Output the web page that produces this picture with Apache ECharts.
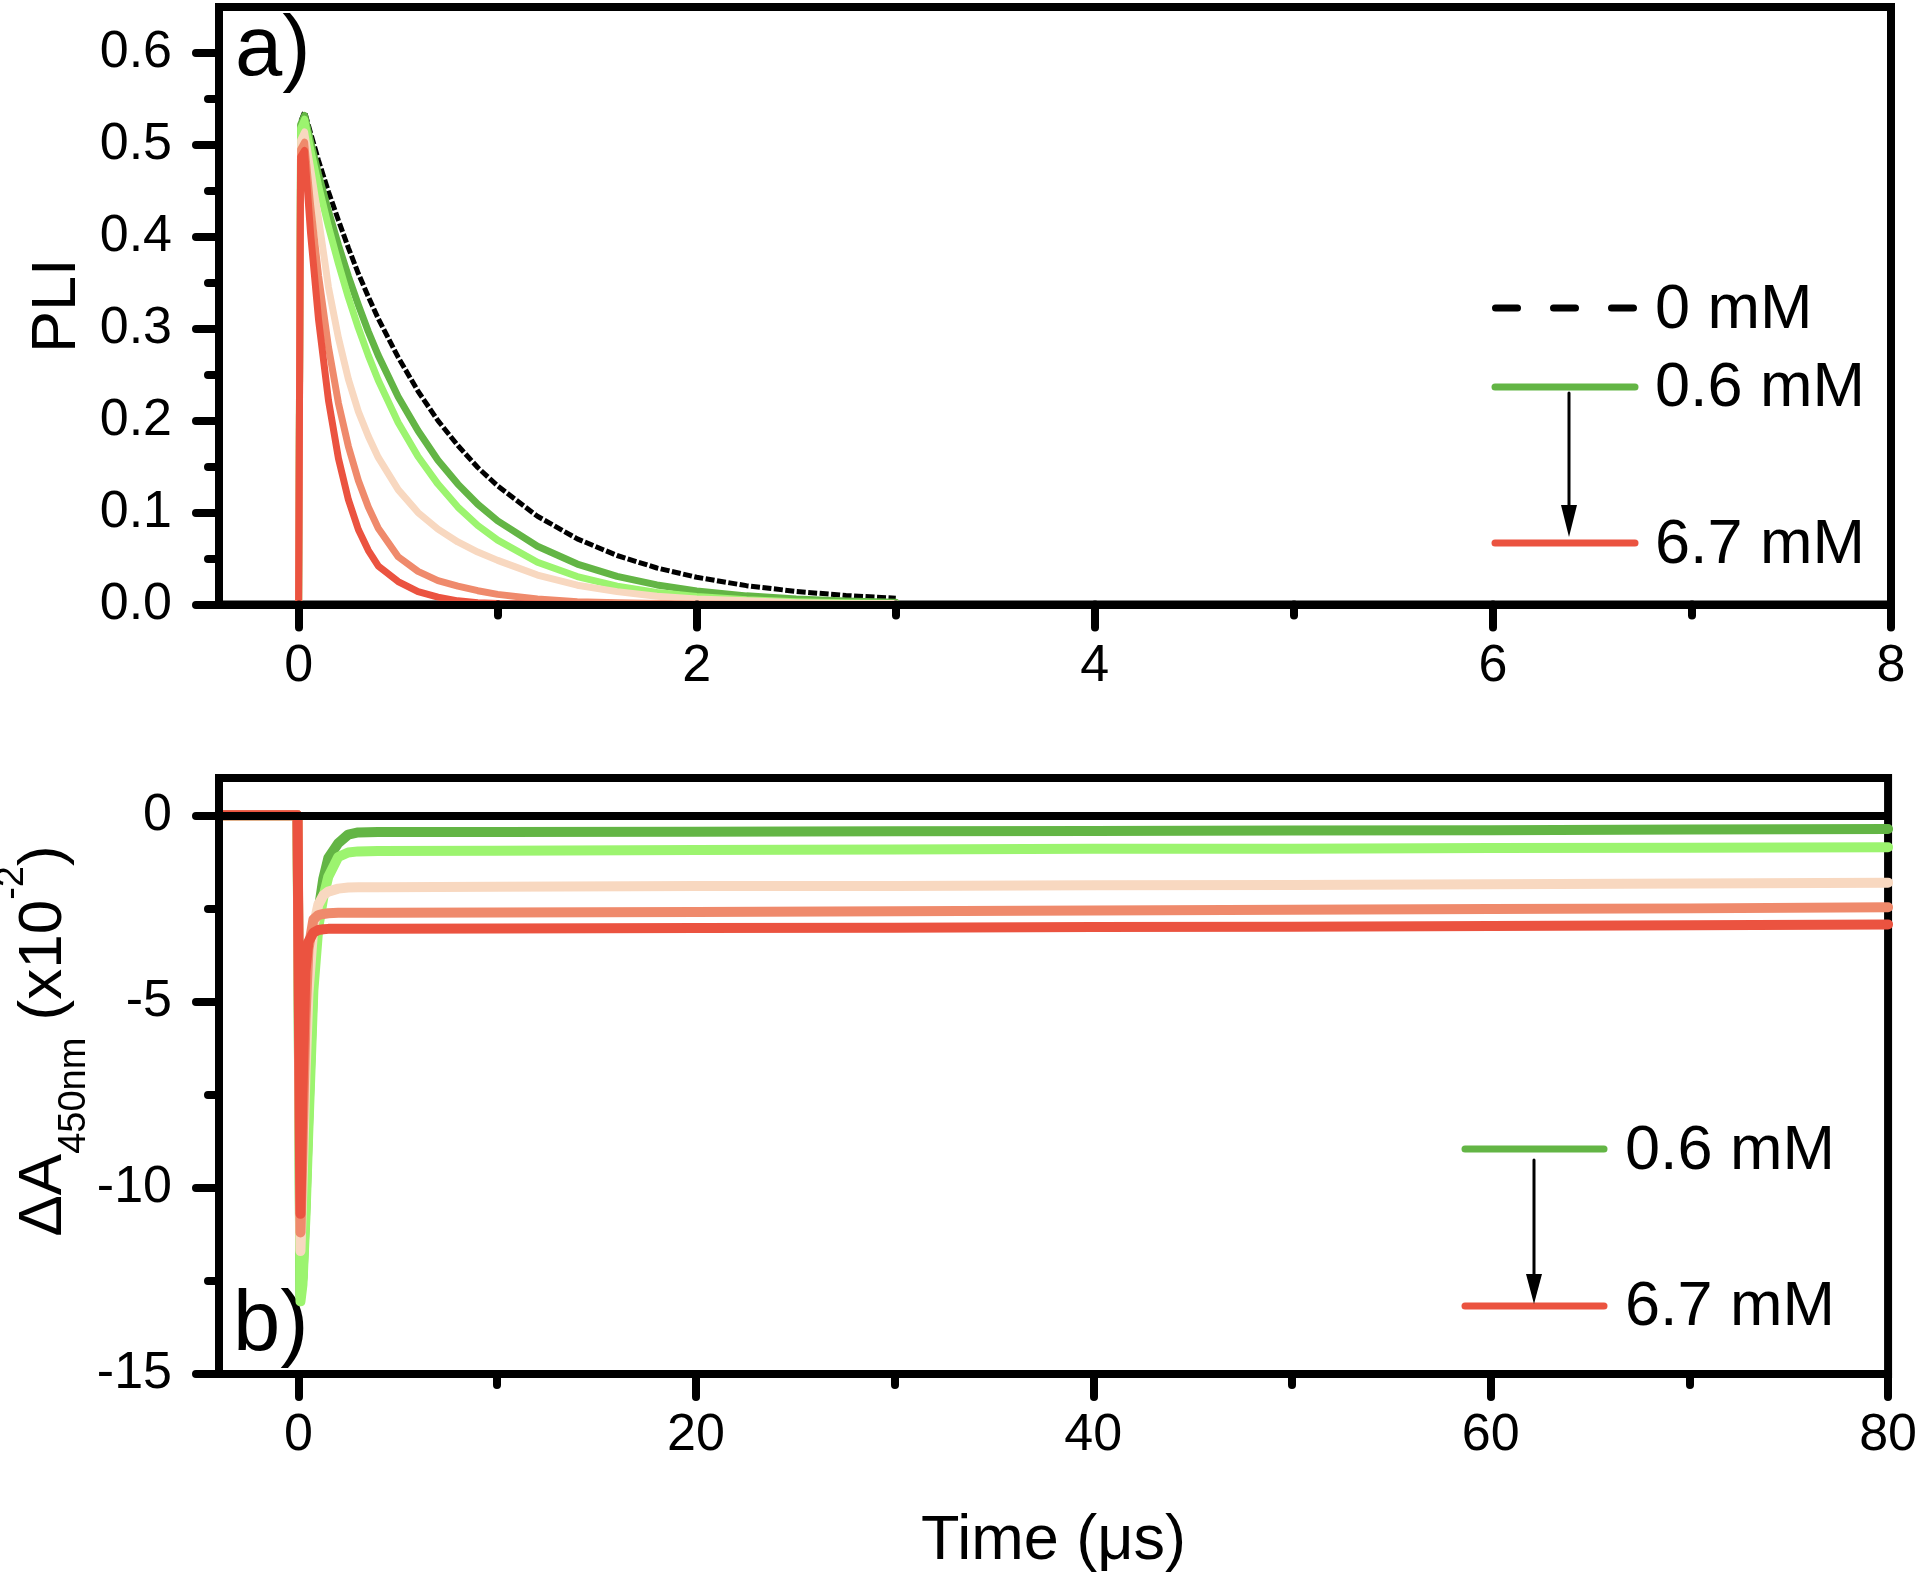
<!DOCTYPE html>
<html><head><meta charset="utf-8">
<script src="https://cdn.jsdelivr.net/npm/echarts@6/dist/echarts.min.js"></script>
<style>html,body{margin:0;padding:0;background:#fff}#c{width:1920px;height:1578px}</style>
</head><body><div id="c"></div>
<script>
// ---------- Panel a) : photoluminescence intensity (PLI) vs time (µs) ----------
const tTop = [-0.4, 0, 0.01, 0.03, 0.06, 0.1, 0.15, 0.2, 0.25, 0.3, 0.35, 0.4, 0.5, 0.6, 0.7, 0.8, 0.9, 1.0, 1.2, 1.4, 1.6, 1.8, 2.0, 2.25, 2.5, 2.75, 3.0];
const pl_0mM   = [0, 0, 0.525, 0.536, 0.513, 0.483, 0.449, 0.418, 0.388, 0.360, 0.335, 0.311, 0.269, 0.232, 0.200, 0.173, 0.149, 0.129, 0.096, 0.0714, 0.0533, 0.0397, 0.0296, 0.0205, 0.0142, 0.0098, 0.0068];
const pl_06mM  = [0, 0, 0.522, 0.532, 0.504, 0.468, 0.428, 0.391, 0.357, 0.326, 0.297, 0.271, 0.226, 0.189, 0.157, 0.131, 0.109, 0.091, 0.0634, 0.044, 0.0306, 0.0213, 0.0148, 0.0094, 0.006, 0.0038, 0.0024];
const pl_c2    = [0, 0, 0.518, 0.528, 0.496, 0.456, 0.411, 0.371, 0.334, 0.301, 0.271, 0.244, 0.198, 0.161, 0.131, 0.106, 0.086, 0.070, 0.046, 0.0304, 0.020, 0.0132, 0.0087, 0.0052, 0.0031, 0.0018, 0.0011];
const pl_c3    = [0, 0, 0.505, 0.514, 0.475, 0.42, 0.345, 0.29, 0.245, 0.21, 0.183, 0.16, 0.125, 0.100, 0.082, 0.068, 0.057, 0.048, 0.032, 0.021, 0.014, 0.009, 0.006, 0.004, 0.002, 0.001, 0.001];
const pl_c4    = [0, 0, 0.495, 0.503, 0.435, 0.358, 0.280, 0.219, 0.172, 0.135, 0.106, 0.083, 0.052, 0.036, 0.026, 0.02, 0.015, 0.011, 0.006, 0.003, 0.002, 0.001, 0.0005, 0.0003, 0.0002, 0.0001, 0];
const pl_67mM  = [0, 0, 0.487, 0.494, 0.404, 0.310, 0.222, 0.159, 0.114, 0.0816, 0.059, 0.042, 0.025, 0.014, 0.008, 0.004, 0.002, 0.001, 0.0005, 0.0002, 0, 0, 0, 0, 0, 0, 0];
const topXMajor = [0, 2, 4, 6, 8];
const topXMinor = [1, 3, 5, 7];
const topYMajor = [0, 0.1, 0.2, 0.3, 0.4, 0.5, 0.6];
const topYMinor = [0.05, 0.15, 0.25, 0.35, 0.45, 0.55];

// ---------- Panel b) : transient absorption at 450 nm (x10^-2) vs time (µs) ----------
const tBot = [-4, -0.05, 0.1, 0.2, 0.35, 0.5, 0.75, 1.0, 1.25, 1.5, 2.0, 2.5, 3.0, 4.0, 10, 20, 30, 40, 50, 60, 70, 80];
const ta_06mM = [0, 0, -12.9, -12.4, -10.5, -8.0, -4.3, -2.6, -1.7, -1.15, -0.75, -0.52, -0.46, -0.45, -0.45, -0.44, -0.43, -0.42, -0.41, -0.40, -0.38, -0.37];
const ta_c2   = [0, 0, -13.05, -12.6, -10.8, -8.4, -4.7, -3.0, -2.2, -1.65, -1.12, -1.0, -0.97, -0.96, -0.95, -0.93, -0.92, -0.9, -0.9, -0.88, -0.87, -0.86];
const ta_c3   = [0, 0, -11.7, -10.0, -7.0, -4.8, -3.0, -2.4, -2.15, -2.05, -1.97, -1.94, -1.93, -1.93, -1.92, -1.9, -1.9, -1.88, -1.87, -1.85, -1.83, -1.81];
const ta_c4   = [0, 0, -11.2, -9.0, -5.5, -3.6, -2.8, -2.68, -2.65, -2.63, -2.62, -2.62, -2.62, -2.62, -2.61, -2.6, -2.58, -2.56, -2.54, -2.52, -2.5, -2.47];
const ta_67mM = [0, 0, -10.7, -7.5, -4.2, -3.4, -3.15, -3.08, -3.06, -3.05, -3.05, -3.05, -3.05, -3.05, -3.04, -3.03, -3.02, -3.0, -2.99, -2.97, -2.95, -2.93];
const botXMajor = [0, 20, 40, 60, 80];
const botXMinor = [10, 30, 50, 70];
const botYMajor = [-15, -10, -5, 0];
const botYMinor = [-12.5, -7.5, -2.5];

const C = { black:'#000000', dg:'#63b545', lg:'#9cf46f', peach:'#f8d8c0', salmon:'#ef8a6c', red:'#eb5340' };
const FONT = "'Liberation Sans', Arial, sans-serif";

function pairs(xs, ys){ return xs.map((x,i)=>[x, ys[i]]); }

const tickStyle = { color:'#000', width:8, cap:'round' };
function majorX(grid, min, max, vals, title){
  return { gridIndex:grid, type:'value', min, max, position:'bottom', z:4,
    axisLine:{show:true, onZero:false, lineStyle:{color:'#000', width:8}},
    axisTick:{show:true, length:23, lineStyle:tickStyle, customValues:vals},
    axisLabel:{show:true, customValues:vals, fontSize:52, color:'#000', fontFamily:FONT, margin:36},
    splitLine:{show:false},
    name: title || '', nameLocation:'middle', nameGap:136,
    nameTextStyle:{fontSize:63, color:'#000', fontFamily:FONT} };
}
function minorX(grid, min, max, vals){
  return { gridIndex:grid, type:'value', min, max, position:'bottom', z:4,
    axisLine:{show:false, onZero:false}, axisTick:{show:true, length:11, lineStyle:tickStyle, customValues:vals},
    axisLabel:{show:false}, splitLine:{show:false} };
}
function majorY(grid, min, max, vals, fmt, title){
  return { gridIndex:grid, type:'value', min, max, position:'left', z:4,
    axisLine:{show:true, onZero:false, lineStyle:{color:'#000', width:8}},
    axisTick:{show:true, length:23, lineStyle:tickStyle, customValues:vals},
    axisLabel:{show:true, customValues:vals, fontSize:52, color:'#000', fontFamily:FONT, margin:47, formatter:fmt},
    splitLine:{show:false},
    name: title || '', nameLocation:'middle', nameRotate:90, nameGap:128,
    nameTextStyle:{fontSize:63, color:'#000', fontFamily:FONT} };
}
function minorY(grid, min, max, vals){
  return { gridIndex:grid, type:'value', min, max, position:'left', z:4,
    axisLine:{show:false, onZero:false}, axisTick:{show:true, length:11, lineStyle:tickStyle, customValues:vals},
    axisLabel:{show:false}, splitLine:{show:false} };
}
function line(name, xi, yi, xs, ys, color, width, extra){
  return Object.assign({ name, type:'line', xAxisIndex:xi, yAxisIndex:yi, data:pairs(xs, ys),
    showSymbol:false, symbol:'none', smooth:false, animation:false, silent:true,
    lineStyle:{color, width, cap:'round', join:'round'} }, extra||{});
}

const chart = echarts.init(document.getElementById('c'), null, {renderer:'canvas'});

const tx = (text, x, y, size, extra) => Object.assign({ type:'text', x, y, silent:true,
  style:{ text, fontSize:size, fontFamily:FONT, fill:'#000', align:'left', verticalAlign:'middle' } }, extra||{});
const seg = (x1,y1,x2,y2,color,w,dash) => ({ type:'line', silent:true,
  shape:{x1,y1,x2,y2}, style:{stroke:color, lineWidth:w, lineCap:'round', lineDash:dash||null} });
const head = (x, yBase, yTip) => ({ type:'polygon', silent:true,
  shape:{points:[[x-8,yBase],[x+8,yBase],[x,yTip]]}, style:{fill:'#000'} });

chart.setOption({
  backgroundColor:'#ffffff',
  animation:false,
  grid:[
    {left:219, top:7, width:1672, height:597.5, show:true, borderColor:'#000', borderWidth:8, backgroundColor:'transparent', containLabel:false},
    {left:219, top:778, width:1672, height:596, show:true, borderColor:'#000', borderWidth:8, backgroundColor:'transparent', containLabel:false}
  ],
  xAxis:[
    majorX(0, -0.4, 8, topXMajor),
    minorX(0, -0.4, 8, topXMinor),
    majorX(1, -4, 80, botXMajor, 'Time (\u03bcs)'),
    minorX(1, -4, 80, botXMinor)
  ],
  yAxis:[
    majorY(0, 0, 0.65, topYMajor, v => Number(v).toFixed(1), 'PLI'),
    minorY(0, 0, 0.65, topYMinor),
    majorY(1, -15, 1, botYMajor, v => String(Math.round(v))),
    minorY(1, -15, 1, botYMinor)
  ],
  series:[
    line('0 mM', 0, 0, tTop, pl_0mM, C.black, 5, {lineStyle:{color:C.black, width:5, type:[9,2.5]}}),
    line('0.6 mM', 0, 0, tTop, pl_06mM, C.dg, 7),
    line('conc. 2', 0, 0, tTop, pl_c2, C.lg, 7),
    line('conc. 3', 0, 0, tTop, pl_c3, C.peach, 7),
    line('conc. 4', 0, 0, tTop, pl_c4, C.salmon, 7),
    line('6.7 mM', 0, 0, tTop, pl_67mM, C.red, 7),

    line('0.6 mM', 2, 2, tBot, ta_06mM, C.dg, 10),
    line('conc. 2', 2, 2, tBot, ta_c2, C.lg, 10),
    line('conc. 3', 2, 2, tBot, ta_c3, C.peach, 10),
    line('conc. 4', 2, 2, tBot, ta_c4, C.salmon, 10),
    line('6.7 mM', 2, 2, tBot, ta_67mM, C.red, 10),
    { name:'zero', type:'line', xAxisIndex:2, yAxisIndex:2, data:[], silent:true, z:5,
      markLine:{ silent:true, symbol:'none', animation:false, label:{show:false},
        lineStyle:{color:'#000', width:8, type:'solid'}, data:[{yAxis:0}] } }
  ],
  graphic:[
    // panel labels
    tx('a)', 235, 52, 85),
    tx('b)', 233, 1327, 85),
    // top legend
    seg(1495.5, 308, 1634.5, 308, '#000', 7, [22, 36]),
    tx('0 mM', 1655, 311, 63),
    seg(1495, 387, 1635, 387, C.dg, 7),
    tx('0.6 mM', 1655, 389, 63),
    seg(1495, 543, 1635, 543, C.red, 7),
    tx('6.7 mM', 1655, 546, 63),
    seg(1569, 393, 1569, 510, '#000', 3),
    head(1569, 505, 537),
    // bottom legend
    seg(1465, 1149, 1604, 1149, C.dg, 7),
    tx('0.6 mM', 1625, 1152, 63),
    seg(1465, 1306, 1604, 1306, C.red, 7),
    tx('6.7 mM', 1625, 1308, 63),
    seg(1534, 1160, 1534, 1278, '#000', 3),
    head(1534, 1274, 1304),
    // bottom y-axis title with subscript / superscript
    { type:'text', x:44, y:1041, rotation:Math.PI/2, silent:true,
      style:{ text:'{m|\u0394A}{s|450nm}{m| (x10}{p|-2}{m|)}', align:'center', verticalAlign:'middle',
        fill:'#000', fontFamily:FONT,
        rich:{ m:{fontSize:62, fontFamily:FONT, lineHeight:100, verticalAlign:'middle', fill:'#000'},
               s:{fontSize:38, fontFamily:FONT, lineHeight:38, verticalAlign:'bottom', fill:'#000'},
               p:{fontSize:38, fontFamily:FONT, lineHeight:50, verticalAlign:'top', fill:'#000'} } } }
  ]
});
</script>
</body></html>
